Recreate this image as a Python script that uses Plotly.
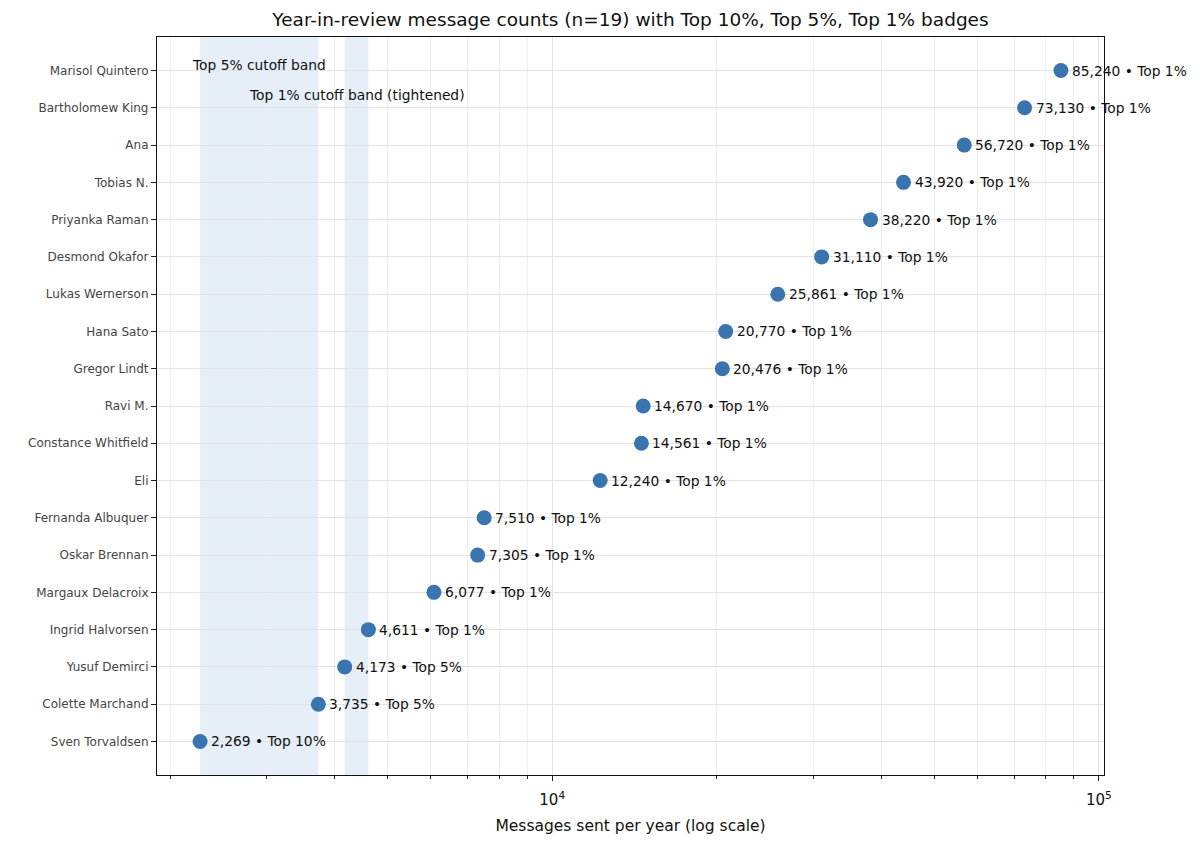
import math
import plotly.graph_objects as go

names = [
    "Marisol Quintero", "Bartholomew King", "Ana", "Tobias N.", "Priyanka Raman",
    "Desmond Okafor", "Lukas Wernerson", "Hana Sato", "Gregor Lindt", "Ravi M.",
    "Constance Whitfield", "Eli", "Fernanda Albuquer", "Oskar Brennan",
    "Margaux Delacroix", "Ingrid Halvorsen", "Yusuf Demirci", "Colette Marchand",
    "Sven Torvaldsen",
]
counts = [85240, 73130, 56720, 43920, 38220, 31110, 25861, 20770, 20476, 14670,
          14561, 12240, 7510, 7305, 6077, 4611, 4173, 3735, 2269]
badges = ["Top 1%"] * 16 + ["Top 5%", "Top 5%", "Top 10%"]

band_top5 = (2269, 3735)
band_top1 = (4173, 4611)
band_labels = ["Top 5% cutoff band", "Top 1% cutoff band (tightened)"]

major_ticks = [1e4, 1e5]
major_text = ["10<sup>4</sup>", "10<sup>5</sup>"]
minor_ticks = [m * 10 ** e for e in (3, 4) for m in range(2, 10)]

n = len(counts)
ypos = [n - 1 - i for i in range(n)]

font = "DejaVu Sans"
fig = go.Figure()

for (lo, hi) in (band_top5, band_top1):
    fig.add_vrect(x0=lo, x1=hi, fillcolor="#dce7f3", opacity=0.7, line_width=0, layer="below")

fig.add_trace(go.Scatter(
    x=counts, y=ypos, mode="markers",
    marker=dict(size=15, color="#3a74af", line=dict(width=0)),
    hoverinfo="skip", showlegend=False,
))

for c, y, b in zip(counts, ypos, badges):
    fig.add_annotation(x=math.log10(c), y=y, text=f"{c:,} \u2022 {b}", showarrow=False,
                       xanchor="left", yanchor="middle", xshift=9,
                       font=dict(family=font, size=13.8, color="#111111"))

for (lo, hi), lab, yd in zip((band_top5, band_top1), band_labels, (0.962, 0.921)):
    fig.add_annotation(x=math.log10(math.sqrt(lo * hi)), y=yd, yref="y domain", text=lab,
                       showarrow=False, xanchor="center", yanchor="middle",
                       font=dict(family=font, size=13.8, color="#111111"))

xmin = math.log10(min(counts)); xmax = math.log10(max(counts))
pad = 0.05 * (xmax - xmin)

fig.update_layout(
    width=1192, height=834,
    margin=dict(l=149, r=96, t=29, b=67, autoexpand=False),
    plot_bgcolor="white", paper_bgcolor="white",
    title=dict(text="Year-in-review message counts (n=19) with Top 10%, Top 5%, Top 1% badges",
               x=0.5, xanchor="center", xref="paper", y=0.9856, yanchor="middle",
               font=dict(family=font, size=18.5, color="#111111")),
    font=dict(family=font, color="#111111"),
)
fig.update_xaxes(
    type="log", range=[xmin - pad, xmax + pad], automargin=False,
    tickvals=major_ticks, ticktext=major_text,
    ticks="outside", ticklen=5, tickcolor="#222", tickfont=dict(size=15, family=font),
    ticklabelstandoff=6,
    showgrid=True, gridcolor="#e3e3e3", gridwidth=1,
    minor=dict(tickvals=minor_ticks, ticks="outside", ticklen=3, tickcolor="#222",
               showgrid=True, gridcolor="#eeeeee", gridwidth=1),
    showline=True, linecolor="#111", linewidth=1.2, mirror=True, zeroline=False,
    title=dict(text="Messages sent per year (log scale)", font=dict(size=15.5, family=font), standoff=12),
)
fig.update_yaxes(
    range=[-0.9, n - 1 + 0.9], tickvals=ypos, ticktext=names, automargin=False,
    ticks="outside", ticklen=5, tickcolor="#222", tickfont=dict(size=12, family=font, color="#444"),
    showgrid=True, gridcolor="#e3e3e3", gridwidth=1,
    showline=True, linecolor="#111", linewidth=1.2, mirror=True, zeroline=False,
)

fig.write_html("out.html")
